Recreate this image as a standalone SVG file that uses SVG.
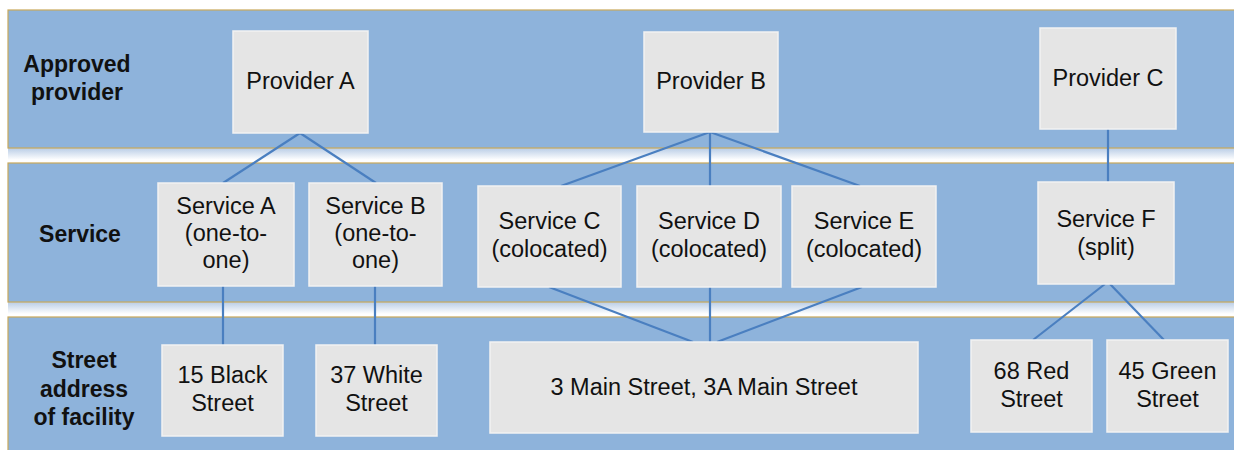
<svg xmlns="http://www.w3.org/2000/svg" width="1234" height="450" viewBox="0 0 1234 450">
<defs>
<linearGradient id="sh" x1="0" y1="0" x2="0" y2="1">
<stop offset="0" stop-color="#b9cde6"/>
<stop offset="1" stop-color="#ffffff"/>
</linearGradient>
<style>
.band{fill:#8eb3db;stroke:#c9a85a;stroke-width:1.2}
.node{fill:#e5e5e5;stroke:#f2f2f2;stroke-width:1.5}
.t{font-family:"Liberation Sans",Arial,sans-serif;font-size:23.5px;fill:#111;text-anchor:middle}
.h{font-family:"Liberation Sans",Arial,sans-serif;font-size:23px;font-weight:bold;fill:#111;text-anchor:middle}
.c{stroke:#4a7fc0;stroke-width:2.2;fill:none}
</style>
</defs>
<rect width="1234" height="450" fill="#ffffff"/>
<g id="bands">
<rect x="8" y="148" width="1240" height="12" fill="url(#sh)"/>
<rect x="8" y="302" width="1240" height="12" fill="url(#sh)"/>
<rect class="band" x="8" y="10" width="1240" height="138"/>
<rect class="band" x="8" y="163" width="1240" height="139"/>
<rect class="band" x="8" y="317" width="1240" height="150"/>
<text class="h" x="77" y="72">Approved</text>
<text class="h" x="77" y="100">provider</text>
<text class="h" x="80" y="242">Service</text>
<text class="h" x="84" y="368">Street</text>
<text class="h" x="84" y="397">address</text>
<text class="h" x="84" y="425">of facility</text>
</g>
<g id="connectors">
<line class="c" x1="300" y1="133" x2="223" y2="183"/>
<line class="c" x1="300" y1="133" x2="376" y2="183"/>
<line class="c" x1="223" y1="286" x2="223" y2="345"/>
<line class="c" x1="375" y1="286" x2="375" y2="345"/>
<line class="c" x1="710" y1="132" x2="561" y2="186"/>
<line class="c" x1="710" y1="132" x2="710" y2="186"/>
<line class="c" x1="710" y1="132" x2="860" y2="186"/>
<line class="c" x1="549" y1="287" x2="693" y2="342"/>
<line class="c" x1="710" y1="287" x2="710" y2="342"/>
<line class="c" x1="862" y1="287" x2="717" y2="342"/>
<line class="c" x1="1108" y1="129" x2="1108" y2="182"/>
<line class="c" x1="1105" y1="284" x2="1033" y2="340"/>
<line class="c" x1="1110" y1="284" x2="1164" y2="340"/>
</g>
<g id="provA"><rect class="node" x="233" y="31" width="135" height="102"/><text class="t" x="300.5" y="89">Provider A</text></g>
<g id="provB"><rect class="node" x="644" y="32" width="134" height="100"/><text class="t" x="711" y="89">Provider B</text></g>
<g id="provC"><rect class="node" x="1040" y="28" width="136" height="101"/><text class="t" x="1108" y="86">Provider C</text></g>
<g id="servA"><rect class="node" x="158" y="183" width="136" height="103"/><text class="t" x="226" y="214">Service A</text><text class="t" x="226" y="241">(one-to-</text><text class="t" x="226" y="268">one)</text></g>
<g id="servB"><rect class="node" x="309" y="183" width="133" height="103"/><text class="t" x="375.5" y="214">Service B</text><text class="t" x="375.5" y="241">(one-to-</text><text class="t" x="375.5" y="268">one)</text></g>
<g id="servC"><rect class="node" x="478" y="186" width="143" height="101"/><text class="t" x="549.5" y="229">Service C</text><text class="t" x="549.5" y="257">(colocated)</text></g>
<g id="servD"><rect class="node" x="637" y="186" width="144" height="101"/><text class="t" x="709" y="229">Service D</text><text class="t" x="709" y="257">(colocated)</text></g>
<g id="servE"><rect class="node" x="792" y="186" width="144" height="101"/><text class="t" x="864" y="229">Service E</text><text class="t" x="864" y="257">(colocated)</text></g>
<g id="servF"><rect class="node" x="1038" y="182" width="136" height="102"/><text class="t" x="1106" y="227">Service F</text><text class="t" x="1106" y="255">(split)</text></g>
<g id="addr15"><rect class="node" x="162" y="345" width="121" height="91"/><text class="t" x="222.5" y="383">15 Black</text><text class="t" x="222.5" y="411">Street</text></g>
<g id="addr37"><rect class="node" x="316" y="345" width="121" height="91"/><text class="t" x="376.5" y="383">37 White</text><text class="t" x="376.5" y="411">Street</text></g>
<g id="addr3"><rect class="node" x="490" y="342" width="428" height="91"/><text class="t" x="704" y="395">3 Main Street, 3A Main Street</text></g>
<g id="addr68"><rect class="node" x="971" y="340" width="121" height="92"/><text class="t" x="1031.5" y="379">68 Red</text><text class="t" x="1031.5" y="407">Street</text></g>
<g id="addr45"><rect class="node" x="1107" y="340" width="121" height="92"/><text class="t" x="1167.5" y="379">45 Green</text><text class="t" x="1167.5" y="407">Street</text></g>
</svg>
